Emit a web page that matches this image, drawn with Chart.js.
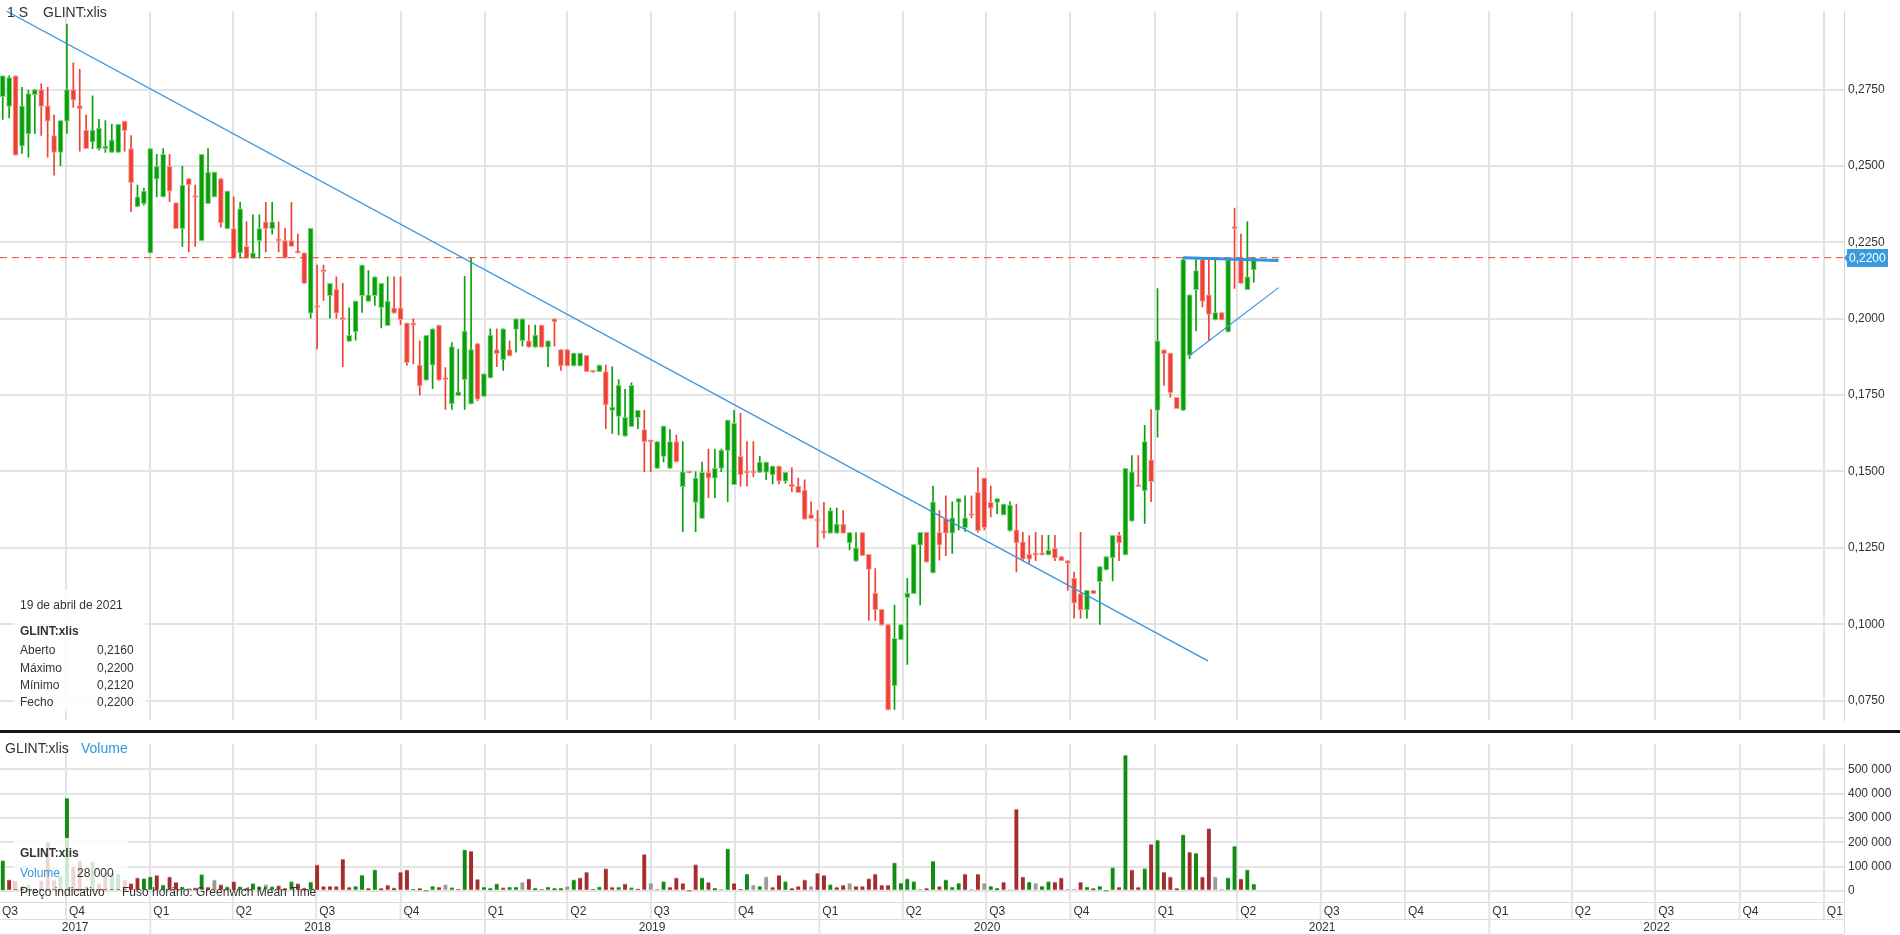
<!DOCTYPE html>
<html>
<head>
<meta charset="utf-8">
<title>GLINT:xlis</title>
<script src="https://cdn.jsdelivr.net/npm/chart.js@4.4.1/dist/chart.umd.min.js"></script>
<style>
  html, body { margin: 0; padding: 0; background: #fff; }
  #wrap { position: relative; width: 1900px; height: 935px; overflow: hidden; }
  #priceChart { position: absolute; left: 0; top: 0; }
  #volChart { position: absolute; left: 0; top: 733px; }
  #sep { position: absolute; left: 0; top: 730px; width: 1900px; height: 3px; background: #151515; }
</style>
</head>
<body>
<div id="wrap">
  <canvas id="priceChart" width="1900" height="731"></canvas>
  <div id="sep"></div>
  <canvas id="volChart" width="1900" height="202"></canvas>
</div>
<script>
const FONT = '"Liberation Sans", Arial, sans-serif';
Chart.defaults.font.family = FONT;
Chart.defaults.color = '#333';

// weekly candles ("1 S"), first week starts 2017-07-24
const firstWeek = '2017-07-24';

const opens = [
  .2727,.2695,.2795,.2565,.2605,.2734,.2750,.2697,.2600,.2545,
  .2647,.2750,.2698,.2618,.2578,.2557,.2557,.2545,.2545,.2647,
  .2557,.2367,.2377,.2216,.2457,.2399,.2499,.2380,.2295,.2459,
  .2399,.2256,.2377,.2399,.2459,.2295,.2295,.2216,.2237,.2198,
  .2256,.2317,.2295,.2258,.2256,.2256,.2219,.2216,.2018,.2041,
  .2158,.2076,.2097,.2000,.1926,.1957,.2076,.2057,.2076,.2036,
  .1977,.2036,.2036,.1986,.1986,.1848,.1799,.1848,.1979,.1805,
  .1721,.1748,.1801,.1721,.1919,.1746,.1806,.1899,.1866,.1899,
  .1965,.1928,.1928,.1907,.1979,.1907,.2000,.1899,.1899,.1846,
  .1846,.1880,.1828,.1827,.1827,.1700,.1680,.1616,.1647,.1676,
  .1637,.1600,.1510,.1549,.1510,.1598,.1450,.1498,.1399,.1346,
  .1497,.1478,.1510,.1568,.1457,.1550,.1498,.1498,.1497,.1497,
  .1489,.1518,.1468,.1459,.1452,.1439,.1359,.1341,.1302,.1298,
  .1298,.1328,.1266,.1206,.1300,.1229,.1102,.1049,.0999,.0798,
  .0949,.1087,.1100,.1259,.1301,.1168,.1301,.1346,.1298,.1399,
  .1316,.1362,.1432,.1478,.1399,.1399,.1358,.1306,.1309,.1270,
  .1229,.1230,.1231,.1227,.1248,.1221,.1208,.1150,.1100,.1047,
  .1111,.1139,.1178,.1217,.1291,.1227,.1337,.1454,.1436,.1538,
  .1700,.1898,.1888,.1743,.1700,.1880,.2095,.2194,.2078,.1996,
  .2020,.1957,.2298,.2194,.2095,.2160
];
const highs = [
  .2795,.2795,.2795,.2758,.2748,.2750,.2769,.2758,.2668,.2649,
  .2965,.2838,.2817,.2668,.2730,.2653,.2649,.2637,.2637,.2647,
  .2600,.2438,.2427,.2557,.2538,.2557,.2538,.2380,.2499,.2459,
  .2438,.2538,.2557,.2480,.2459,.2418,.2399,.2381,.2317,.2340,
  .2340,.2381,.2381,.2317,.2296,.2381,.2277,.2216,.2296,.2176,
  .2176,.2116,.2137,.2116,.2036,.2058,.2176,.2158,.2137,.2116,
  .2137,.2137,.2137,.1986,.2000,.1928,.1946,.1967,.1979,.1840,
  .1922,.1901,.2139,.2198,.1919,.1820,.1967,.1967,.1967,.1928,
  .2000,.2000,.1979,.1979,.1979,.1928,.2000,.1899,.1899,.1888,
  .1888,.1880,.1828,.1848,.1848,.1843,.1801,.1769,.1790,.1700,
  .1700,.1600,.1598,.1649,.1637,.1619,.1598,.1498,.1499,.1531,
  .1573,.1573,.1573,.1668,.1700,.1690,.1598,.1598,.1550,.1531,
  .1518,.1518,.1497,.1513,.1478,.1473,.1401,.1372,.1399,.1380,
  .1380,.1372,.1300,.1300,.1300,.1229,.1182,.1049,.0999,.1063,
  .0999,.1150,.1261,.1301,.1301,.1452,.1372,.1420,.1401,.1411,
  .1420,.1420,.1513,.1478,.1452,.1411,.1393,.1401,.1393,.1301,
  .1290,.1301,.1291,.1291,.1291,.1221,.1208,.1171,.1301,.1111,
  .1111,.1189,.1221,.1291,.1301,.1510,.1552,.1552,.1651,.1703,
  .2099,.1898,.1888,.1743,.2198,.2078,.2194,.2194,.2194,.2194,
  .2020,.2198,.2362,.2277,.2317,.2200
];
const lows = [
  .2653,.2658,.2536,.2541,.2529,.2607,.2600,.2529,.2470,.2501,
  .2607,.2692,.2549,.2557,.2557,.2552,.2545,.2545,.2545,.2549,
  .2351,.2367,.2372,.2216,.2399,.2399,.2383,.2295,.2237,.2219,
  .2237,.2256,.2377,.2399,.2300,.2295,.2198,.2198,.2198,.2198,
  .2198,.2219,.2277,.2219,.2198,.2237,.2216,.2116,.2002,.1901,
  .2060,.2002,.2002,.1843,.1926,.1930,.2021,.2057,.2044,.1970,
  .1977,.2018,.1981,.1848,.1852,.1750,.1799,.1771,.1799,.1703,
  .1703,.1748,.1703,.1721,.1732,.1746,.1806,.1843,.1831,.1878,
  .1891,.1910,.1907,.1907,.1907,.1843,.1910,.1831,.1846,.1846,
  .1846,.1827,.1825,.1827,.1640,.1625,.1620,.1616,.1647,.1640,
  .1499,.1499,.1510,.1531,.1510,.1531,.1303,.1495,.1303,.1346,
  .1414,.1414,.1499,.1401,.1457,.1452,.1452,.1483,.1497,.1473,
  .1459,.1459,.1462,.1433,.1431,.1344,.1346,.1251,.1282,.1298,
  .1298,.1298,.1243,.1206,.1224,.1012,.1012,.0997,.0719,.0721,
  .0949,.0868,.1100,.1063,.1203,.1168,.1210,.1224,.1232,.1309,
  .1304,.1348,.1301,.1309,.1351,.1362,.1358,.1304,.1171,.1208,
  .1200,.1208,.1227,.1227,.1208,.1208,.1111,.1020,.1020,.1020,
  .1100,.0999,.1178,.1142,.1208,.1227,.1337,.1450,.1330,.1401,
  .1612,.1782,.1743,.1706,.1700,.1869,.1960,.2039,.1930,.1996,
  .1996,.1957,.2099,.2116,.2095,.2120
];
const closes = [
  .2795,.2790,.2536,.2697,.2737,.2750,.2695,.2647,.2545,.2649,
  .2750,.2716,.2687,.2557,.2618,.2624,.2565,.2586,.2637,.2616,
  .2446,.2399,.2418,.2557,.2499,.2538,.2418,.2295,.2438,.2438,
  .2397,.2538,.2480,.2480,.2314,.2418,.2198,.2360,.2198,.2216,
  .2295,.2295,.2317,.2255,.2198,.2237,.2216,.2116,.2296,.2037,
  .2154,.2116,.2018,.1997,.1946,.2058,.2176,.2078,.2137,.2116,
  .2058,.2018,.1997,.1856,.1979,.1780,.1946,.1967,.1799,.1801,
  .1909,.1761,.1960,.1899,.1737,.1820,.1947,.1886,.1967,.1878,
  .2000,.2000,.1907,.1947,.1907,.1928,.1990,.1846,.1846,.1888,
  .1888,.1827,.1825,.1848,.1718,.1711,.1782,.1677,.1782,.1700,
  .1598,.1597,.1598,.1649,.1598,.1531,.1499,.1495,.1478,.1497,
  .1478,.1510,.1570,.1668,.1658,.1489,.1495,.1495,.1531,.1531,
  .1518,.1468,.1497,.1450,.1431,.1344,.1346,.1338,.1299,.1372,
  .1328,.1298,.1300,.1250,.1224,.1179,.1047,.0997,.0719,.0954,
  .0999,.1102,.1261,.1301,.1203,.1401,.1259,.1298,.1348,.1411,
  .1348,.1356,.1306,.1316,.1380,.1411,.1393,.1390,.1266,.1213,
  .1213,.1226,.1227,.1242,.1217,.1208,.1200,.1069,.1047,.1111,
  .1100,.1189,.1221,.1291,.1266,.1510,.1499,.1450,.1598,.1467,
  .1928,.1885,.1758,.1706,.2194,.2078,.2158,.2057,.2014,.2020,
  .1996,.2194,.2295,.2116,.2137,.2200
];
// weekly volume in thousands of shares
const volumes = [
  125,45,42,20,25,10,42,200,45,60,
  381,100,125,20,119,30,75,73,70,45,
  30,54,50,58,64,24,58,35,15,10,
  12,67,15,45,26,16,38,16,10,30,
  18,26,18,22,10,38,30,12,36,107,
  19,19,19,131,15,19,64,10,87,10,
  24,12,77,87,6,10,0,19,15,26,
  13,6,169,164,47,15,10,29,13,15,
  15,35,49,10,6,15,10,10,19,45,
  54,77,6,17,92,15,15,29,13,8,
  150,32,6,38,15,54,31,0,108,54,
  35,10,5,173,31,6,69,24,19,58,
  15,64,38,10,19,45,19,73,64,26,
  15,24,31,19,19,50,69,24,24,115,
  31,49,38,6,10,122,19,45,15,31,
  69,5,69,31,19,10,36,5,337,58,
  36,31,19,38,36,54,5,5,36,15,
  10,19,0,96,15,558,87,15,92,192,
  208,77,58,10,231,160,154,58,256,58,
  5,54,183,49,87,28
];
// volume bar colour: g = up, r = down, n = unchanged
const volumeDir =
  'grrggrrrrg' + 'grrggrrggr' + 'rrggrgrrgn' + 'rgrnrgrgrg' + 'gngrrgrrgr' +
  'rrrrrggrgr' + 'rrrrgrggrn' + 'grgrrgggrg' + 'gnrgrgggng' + 'rrggrrgrgr' +
  'rnngrrrrrg' + 'rgggrrgngn' + 'rrgrrrnrrg' + 'rrnrrrrrrg' + 'gggnrgrggg' +
  'rgrnggrnrr' + 'gnggrrrrrg' + 'rgggrgrrgr' + 'grrrgrgrrn' + 'rggrgg';

const priceTicks = [0.075, 0.1, 0.125, 0.15, 0.175, 0.2, 0.225, 0.25, 0.275];
const volumeTicks = [0, 100000, 200000, 300000, 400000, 500000];

const quarterDates = [
  '2017-07-01','2017-10-01','2018-01-01','2018-04-01','2018-07-01','2018-10-01',
  '2019-01-01','2019-04-01','2019-07-01','2019-10-01','2020-01-01','2020-04-01',
  '2020-07-01','2020-10-01','2021-01-01','2021-04-01','2021-07-01','2021-10-01',
  '2022-01-01','2022-04-01','2022-07-01','2022-10-01','2023-01-01'
];
const quarterLabels = ['Q3','Q4','Q1','Q2','Q3','Q4','Q1','Q2','Q3','Q4','Q1','Q2',
  'Q3','Q4','Q1','Q2','Q3','Q4','Q1','Q2','Q3','Q4','Q1'];
const yearLabels = ['2017','2018','2019','2020','2021','2022'];

// drawn trend lines [date, price]
const trendDown = [['2017-07-21', 0.3019], ['2021-02-28', 0.0880]];
const trendUp = [['2021-02-08', 0.1880], ['2021-05-16', 0.2102]];
const resistance = [['2021-02-01', 0.2200], ['2021-05-16', 0.2191]];

const symbol = 'GLINT:xlis';
const lastDateText = '19 de abril de 2021';

// ---------------------------------------------------------------
const EPOCH = Date.UTC(2017, 9, 1);
function dayOf(s) {
  const [y, m, d] = s.split('-').map(Number);
  return (Date.UTC(y, m - 1, d) - EPOCH) / 864e5;
}
const X_MIN = -72, X_MAX = 1940;

const UP = '#0aa00a', DOWN = '#ee4236';
const UP_EDGE = '#7fcf7f', DOWN_EDGE = '#f59c95';
const GRID = '#e4e4e4';
const BLUE = '#3493e0';

const startDay = dayOf(firstWeek);
const candleDays = opens.map((_, i) => startDay + 7 * i);
const up = opens.map((o, i) => closes[i] >= o);
const last = closes.length - 1;

const fmtPrice = v => v.toFixed(4).replace('.', ',');
const fmtVol = v => String(Math.round(v)).replace(/\B(?=(\d{3})+(?!\d))/g, ' ');
const toPts = line => line.map(([d, p]) => ({ x: dayOf(d), y: p }));

const quarterDays = quarterDates.map(dayOf);
const visibleQuarterTicks = quarterDays.filter(d => d >= X_MIN && d <= X_MAX).map(v => ({ value: v }));

function xScaleOptions() {
  return {
    type: 'linear', min: X_MIN, max: X_MAX, offset: false,
    afterBuildTicks: s => { s.ticks = visibleQuarterTicks.slice(); },
    ticks: { display: false },
    grid: { color: GRID, lineWidth: 2, drawTicks: false, offset: false },
    border: { display: false }
  };
}

const priceOverlay = {
  id: 'priceOverlay',
  afterDraw(chart) {
    const { ctx, chartArea: a, scales: { y } } = chart;
    ctx.save();
    ctx.textBaseline = 'middle';
    ctx.fillStyle = '#333';
    ctx.font = '14px ' + FONT;
    ctx.fillText('1 S', 7, 13);
    ctx.fillText(symbol, 43, 13);

    // info box of the last candle
    ctx.fillStyle = 'rgba(255,255,255,0.85)';
    ctx.fillRect(14, 590, 132, 121);
    ctx.fillStyle = '#333';
    ctx.font = '12px ' + FONT;
    ctx.fillText(lastDateText, 20, 606);
    ctx.font = 'bold 12px ' + FONT;
    ctx.fillText(symbol, 20, 632);
    ctx.font = '12px ' + FONT;
    const rows = [['Aberto', opens[last]], ['Máximo', highs[last]], ['Mínimo', lows[last]], ['Fecho', closes[last]]];
    rows.forEach(([k, v], i) => {
      const ty = 651 + i * 17.3;
      ctx.fillText(k, 20, ty);
      ctx.fillText(fmtPrice(v), 97, ty);
    });

    // last price tag
    const py = Math.round(y.getPixelForValue(closes[last]));
    ctx.fillStyle = '#3a9be0';
    ctx.beginPath();
    ctx.moveTo(a.right, py);
    ctx.lineTo(a.right + 4, py - 5);
    ctx.lineTo(a.right + 4, py + 5);
    ctx.closePath();
    ctx.fill();
    ctx.fillRect(a.right + 3, py - 9, 41, 18);
    ctx.fillStyle = '#fff';
    ctx.font = '12px ' + FONT;
    ctx.fillText(fmtPrice(closes[last]), a.right + 5, py + 0.5);
    ctx.restore();
  }
};

new Chart(document.getElementById('priceChart'), {
  type: 'bar',
  data: {
    datasets: [
      {
        label: 'wick',
        data: candleDays.map((d, i) => ({ x: d, y: [lows[i], highs[i]] })),
        backgroundColor: up.map(u => u ? UP : DOWN),
        barThickness: 1, grouped: false, order: 3
      },
      {
        label: 'body',
        data: candleDays.map((d, i) => ({ x: d, y: [opens[i], closes[i]] })),
        backgroundColor: up.map(u => u ? UP : DOWN),
        borderColor: up.map(u => u ? UP_EDGE : DOWN_EDGE),
        borderWidth: 1, borderSkipped: false,
        barThickness: 5, minBarLength: 2, grouped: false, order: 2
      },
      {
        type: 'line', label: 'last',
        data: [{ x: X_MIN, y: closes[last] }, { x: X_MAX, y: closes[last] }],
        borderColor: '#e8433b', borderWidth: 1, borderDash: [7, 5],
        pointRadius: 0, order: 1
      },
      {
        type: 'line', label: 'trendDown', data: toPts(trendDown),
        borderColor: BLUE, borderWidth: 1.2, pointRadius: 0, order: 0
      },
      {
        type: 'line', label: 'trendUp', data: toPts(trendUp),
        borderColor: BLUE, borderWidth: 1.2, pointRadius: 0, order: 0
      },
      {
        type: 'line', label: 'resistance', data: toPts(resistance),
        borderColor: BLUE, borderWidth: 3, pointRadius: 0, order: 0
      }
    ]
  },
  options: {
    responsive: false,
    animation: false,
    layout: { padding: 0 },
    plugins: { legend: { display: false }, tooltip: { enabled: false } },
    scales: {
      x: xScaleOptions(),
      y: {
        type: 'linear', position: 'right', min: 0.0687, max: 0.3007,
        afterBuildTicks: s => { s.ticks = priceTicks.map(v => ({ value: v })); },
        afterFit: s => { s.width = 56; },
        ticks: { callback: v => fmtPrice(v), color: '#333', font: { size: 12 }, padding: 4 },
        grid: { color: GRID, lineWidth: 2, drawTicks: false },
        border: { display: true, color: '#d4d4d4', width: 1 }
      }
    }
  },
  plugins: [priceOverlay]
});

const volumeOverlay = {
  id: 'volumeOverlay',
  afterDraw(chart) {
    const { ctx, chartArea: a, scales: { x } } = chart;
    ctx.save();
    ctx.textBaseline = 'middle';
    ctx.font = '14px ' + FONT;
    ctx.fillStyle = '#333';
    ctx.fillText(symbol, 5, 16);
    ctx.fillStyle = '#2f95de';
    ctx.fillText('Volume', 81, 16);

    // value box of the last week
    ctx.fillStyle = 'rgba(255,255,255,0.8)';
    ctx.fillRect(14, 105, 114, 51);
    ctx.fillStyle = '#333';
    ctx.font = 'bold 12px ' + FONT;
    ctx.fillText(symbol, 20, 121);
    ctx.font = '12px ' + FONT;
    ctx.fillStyle = '#2f95de';
    ctx.fillText('Volume', 20, 141);
    ctx.fillStyle = '#333';
    ctx.fillText(fmtVol(volumes[last] * 1000), 77, 141);

    ctx.fillText('Preço indicativo', 20, 160);
    ctx.fillText('Fuso horário: Greenwich Mean Time', 122, 160);

    // time axis rows
    const y0 = a.bottom, y1 = y0 + 17, y2 = y1 + 15;
    ctx.strokeStyle = '#dcdcdc';
    ctx.lineWidth = 1;
    ctx.beginPath();
    [y0, y1, y2].forEach(yy => { ctx.moveTo(0, yy + 0.5); ctx.lineTo(a.right, yy + 0.5); });
    ctx.moveTo(a.right + 0.5, y0); ctx.lineTo(a.right + 0.5, y2);
    ctx.stroke();

    ctx.lineWidth = 2;
    ctx.strokeStyle = GRID;
    ctx.fillStyle = '#333';
    ctx.font = '12px ' + FONT;
    ctx.textAlign = 'left';
    quarterDays.forEach((d, i) => {
      const px = x.getPixelForValue(d);
      if (px > 0 && px < a.right) {
        ctx.beginPath(); ctx.moveTo(px, y0); ctx.lineTo(px, y1); ctx.stroke();
      }
      ctx.fillText(quarterLabels[i], Math.max(px + 3, 2), (y0 + y1) / 2 + 1);
    });

    ctx.textAlign = 'center';
    yearLabels.forEach(yr => {
      const l = x.getPixelForValue(dayOf(yr + '-01-01'));
      const r = x.getPixelForValue(dayOf((+yr + 1) + '-01-01'));
      if (l > 0) { ctx.beginPath(); ctx.moveTo(l, y1); ctx.lineTo(l, y2); ctx.stroke(); }
      const cl = Math.max(l, a.left), cr = Math.min(r, a.right);
      ctx.fillText(yr, (cl + cr) / 2, (y1 + y2) / 2 + 1);
    });
    ctx.restore();
  }
};

const volColor = { g: '#138b13', r: '#a52d2d', n: '#9a9a9a' };
const volEdge = { g: '#5fb55f', r: '#d89090', n: '#c4c4c4' };

new Chart(document.getElementById('volChart'), {
  type: 'bar',
  data: {
    datasets: [{
      label: 'Volume',
      data: candleDays.map((d, i) => ({ x: d, y: volumes[i] * 1000 })),
      backgroundColor: candleDays.map((_, i) => volColor[volumeDir[i]]),
      borderColor: candleDays.map((_, i) => volEdge[volumeDir[i]]),
      borderWidth: { top: 1, left: 0, right: 0, bottom: 0 },
      barThickness: 4, grouped: false
    }]
  },
  options: {
    responsive: false,
    animation: false,
    layout: { padding: { left: 0, right: 0, top: 0, bottom: 33 } },
    plugins: { legend: { display: false }, tooltip: { enabled: false } },
    scales: {
      x: xScaleOptions(),
      y: {
        type: 'linear', position: 'right', min: -46000, max: 604000,
        afterBuildTicks: s => { s.ticks = volumeTicks.map(v => ({ value: v })); },
        afterFit: s => { s.width = 56; },
        ticks: { callback: v => fmtVol(v), color: '#333', font: { size: 12 }, padding: 4 },
        grid: { color: GRID, lineWidth: 2, drawTicks: false },
        border: { display: true, color: '#d4d4d4', width: 1 }
      }
    }
  },
  plugins: [volumeOverlay]
});
</script>
</body>
</html>
